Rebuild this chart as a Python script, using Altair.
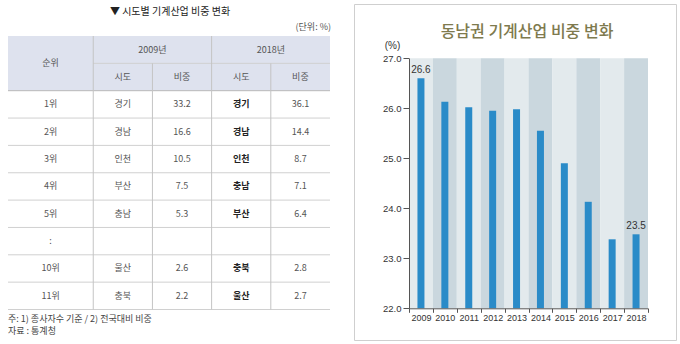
import altair as alt
import pandas as pd

# ---------------- table data ----------------
table_title = "▼ 시도별 기계산업 비중 변화"
table_unit = "(단위: %)"
table_notes = ["주: 1) 종사자수 기준  /  2) 전국대비 비중", "자료 : 통계청"]
header_top = ["순위", "2009년", "2018년"]
header_sub = ["시도", "비중", "시도", "비중"]
ranks = ["1위", "2위", "3위", "4위", "5위", ":", "10위", "11위"]
region_2009 = ["경기", "경남", "인천", "부산", "충남", "", "울산", "충북"]
share_2009 = [33.2, 16.6, 10.5, 7.5, 5.3, None, 2.6, 2.2]
region_2018 = ["경기", "경남", "인천", "충남", "부산", "", "충북", "울산"]
share_2018 = [36.1, 14.4, 8.7, 7.1, 6.4, None, 2.8, 2.7]

# ---------------- chart data ----------------
chart_title = "동남권 기계산업 비중 변화"
years = ["2009", "2010", "2011", "2012", "2013", "2014", "2015", "2016", "2017", "2018"]
shares = [26.6, 26.13, 26.02, 25.95, 25.98, 25.55, 24.9, 24.13, 23.38, 23.48]
value_labels = ["26.6", "", "", "", "", "", "", "", "", "23.5"]
y_ticks = [22, 23, 24, 25, 26, 27]
y_min, y_max = 22, 27

KR = "Noto Sans CJK KR"
NUM = "'Liberation Sans Narrow', 'Liberation Sans', Arial, sans-serif"

# ---------------- table structure ----------------
col_w = [1.44, 1, 1, 1, 1]
edges = [0]
for w in col_w:
    edges.append(edges[-1] + w)
centers = [(edges[i] + edges[i + 1]) / 2 for i in range(5)]
n_rows = 2 + len(ranks)

XT = alt.Scale(domain=[0, edges[-1]], range=[8, 330], nice=False, zero=False)
YT = alt.Scale(domain=[0, n_rows], range=[36, 309.5], nice=False, zero=False)

cells = []
cells.append(dict(t=header_top[0], cx=centers[0], cy=1.0, b=False))
cells.append(dict(t=header_top[1], cx=edges[2], cy=0.5, b=False))
cells.append(dict(t=header_top[2], cx=edges[4], cy=0.5, b=False))
for i, h in enumerate(header_sub):
    cells.append(dict(t=h, cx=centers[i + 1], cy=1.5, b=False))
for r in range(len(ranks)):
    cy = 2.5 + r
    cells.append(dict(t=ranks[r], cx=centers[0], cy=cy, b=False))
    cells.append(dict(t=region_2009[r], cx=centers[1], cy=cy, b=False))
    cells.append(dict(t="" if share_2009[r] is None else f"{share_2009[r]:.1f}", cx=centers[2], cy=cy, b=False))
    cells.append(dict(t=region_2018[r], cx=centers[3], cy=cy, b=True))
    cells.append(dict(t="" if share_2018[r] is None else f"{share_2018[r]:.1f}", cx=centers[4], cy=cy, b=False))
cells_df = pd.DataFrame(cells)
cells_df = cells_df[cells_df["t"] != ""]

header_df = pd.DataFrame({"x": [0], "x2": [edges[-1]], "y": [0], "y2": [2]})
vlines = pd.DataFrame({
    "x": [edges[1], edges[2], edges[3], edges[4]],
    "y": [0, 1, 0, 1],
    "y2": [n_rows] * 4,
})
hlines = pd.DataFrame({
    "y": [1] + list(range(3, n_rows + 1)),
    "x": [edges[1]] + [0] * (n_rows - 2),
    "x2": [edges[-1]] * (n_rows - 1),
})
hhead = pd.DataFrame({"y": [2], "x": [0], "x2": [edges[-1]]})

t_header = alt.Chart(header_df).mark_rect(color="#dee2ee").encode(
    x=alt.X("x:Q", scale=XT, axis=None), x2="x2:Q",
    y=alt.Y("y:Q", scale=YT, axis=None), y2="y2:Q")
t_vl = alt.Chart(vlines).mark_rule(color="#c4c4c4", strokeWidth=1).encode(
    x=alt.X("x:Q", scale=XT, axis=None),
    y=alt.Y("y:Q", scale=YT, axis=None), y2="y2:Q")
t_hl = alt.Chart(hlines).mark_rule(color="#d0d0d0", strokeWidth=1).encode(
    x=alt.X("x:Q", scale=XT, axis=None), x2="x2:Q",
    y=alt.Y("y:Q", scale=YT, axis=None))
t_hh = alt.Chart(hhead).mark_rule(color="#b8b8b8", strokeWidth=1).encode(
    x=alt.X("x:Q", scale=XT, axis=None), x2="x2:Q",
    y=alt.Y("y:Q", scale=YT, axis=None))
t_txt = alt.Chart(cells_df).transform_filter("!datum.b").mark_text(
    font=KR, fontSize=9, color="#555", baseline="middle", align="center").encode(
    x=alt.X("cx:Q", scale=XT, axis=None),
    y=alt.Y("cy:Q", scale=YT, axis=None), text="t:N")
t_txt_b = alt.Chart(cells_df).transform_filter("datum.b").mark_text(
    font=KR, fontSize=9, color="#222", fontWeight="bold", baseline="middle", align="center").encode(
    x=alt.X("cx:Q", scale=XT, axis=None),
    y=alt.Y("cy:Q", scale=YT, axis=None), text="t:N")

t_title = alt.Chart(pd.DataFrame({"t": [table_title]})).mark_text(
    font=KR, fontSize=10, color="#222", baseline="middle", align="center").encode(
    text="t:N", x=alt.value(170), y=alt.value(12))
t_unit = alt.Chart(pd.DataFrame({"t": [table_unit]})).mark_text(
    font=KR, fontSize=9, color="#555", baseline="middle", align="right").encode(
    text="t:N", x=alt.value(331), y=alt.value(27))
t_notes = alt.Chart(pd.DataFrame({"t": table_notes, "i": [0, 1]})).mark_text(
    font=KR, fontSize=9, color="#444", baseline="middle", align="left", dy=0).encode(
    text="t:N", x=alt.value(8), y=alt.Y("i:Q", scale=alt.Scale(domain=[0, 1], range=[319, 331]), axis=None))

table = alt.layer(t_header, t_hl, t_hh, t_vl, t_txt, t_txt_b)

# ---------------- bar chart ----------------
chart_df = pd.DataFrame({
    "year": years,
    "share": shares,
    "label": value_labels,
    "shade": ["light", "dark"] * (len(years) // 2),
})

XC = alt.Scale(domain=years, range=[409, 648], paddingInner=0, paddingOuter=0)
YC = alt.Scale(domain=[y_min, y_max], range=[308.3, 58.3], nice=False, zero=False)

frame = alt.Chart(pd.DataFrame({"a": [0]})).mark_rect(
    fill="white", stroke="#cfcfcf", strokeWidth=1).encode(
    x=alt.value(354.5), x2=alt.value(676.5), y=alt.value(4.5), y2=alt.value(340.5))

bands = alt.Chart(chart_df).mark_rect().encode(
    x=alt.X("year:N", scale=XC, axis=alt.Axis(
        orient="bottom", offset=-(344 - 308.3), tickBand="extent", labelAngle=0,
        title=None, tickSize=4, labelPadding=1, labelFont=NUM, labelFontSize=9,
        labelColor="#333", domainColor="#555", tickColor="#555", grid=False, zindex=1)),
    y=alt.Y("top:Q", scale=YC, axis=alt.Axis(
        orient="left", offset=-409, values=y_ticks, format=".1f", grid=False,
        title="(%)", titleAngle=0, titleX=-17, titleY=45, titleAlign="center",
        titleBaseline="middle", titleFont=NUM, titleFontSize=10, titleFontWeight="normal",
        titleColor="#333", tickSize=6, labelPadding=2, labelFont=NUM, labelFontSize=9.5,
        labelColor="#333", domainColor="#555", tickColor="#555", zindex=1)),
    y2="bottom:Q",
    color=alt.Color("shade:N", scale=alt.Scale(domain=["light", "dark"], range=["#e3eaed", "#cad7de"]), legend=None),
).transform_calculate(top=str(y_max), bottom=str(y_min))

bars = alt.Chart(chart_df).mark_bar(size=7, color="#2a8bc8").encode(
    x=alt.X("year:N", scale=XC),
    y=alt.Y("share:Q", scale=YC),
    y2=alt.datum(y_min),
)
labels = alt.Chart(chart_df).transform_filter("datum.label != ''").mark_text(
    font=NUM, fontSize=10, color="#333", baseline="bottom", dy=-3).encode(
    x=alt.X("year:N", scale=XC),
    y=alt.Y("share:Q", scale=YC),
    text="label:N",
)
c_title = alt.Chart(pd.DataFrame({"t": [chart_title]})).mark_text(
    font=KR, fontSize=16, fontWeight=500, color="#7e7a4e", baseline="middle", align="center").encode(
    text="t:N", x=alt.value(527), y=alt.value(32))

chart_part = alt.layer(bands, bars, labels)

chart = alt.layer(
    frame, t_title, t_unit, t_notes, c_title, table, chart_part
).resolve_scale(x="independent", y="independent").resolve_axis(x="independent", y="independent").properties(
    width=680, height=344, padding=0, autosize=alt.AutoSizeParams(type="none"),
    background="white",
).configure_view(strokeWidth=0)

chart.save("out.html", embed_options={"renderer": "svg", "actions": False})
